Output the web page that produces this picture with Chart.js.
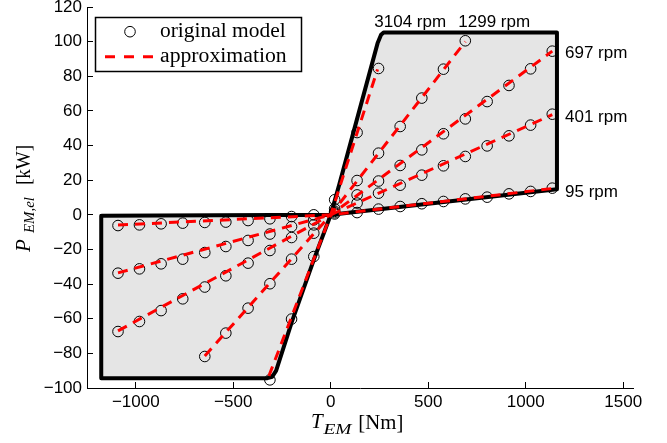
<!DOCTYPE html>
<html lang="en">
<head>
<meta charset="UTF-8">
<title>P_EM,el vs T_EM</title>
<script src="https://cdn.jsdelivr.net/npm/chart.js"></script>
<style>
    html, body { margin: 0; padding: 0; background: #fff; }
    .wrap { width: 667px; height: 443px; position: relative; }
</style>
</head>
<body>
<div class="wrap"><canvas id="grafico"></canvas></div>
<script>
// ticks
const xTicks = [-1000, -500, 0, 500, 1000, 1500];
const yTicks = [-100, -80, -60, -40, -20, 0, 20, 40, 60, 80, 100, 120];

// torque grid of the original model [Nm]
const torqueNeg = [-1091, -981, -870, -759, -646, -538, -424, -312, -201, -87];
const torquePos = [20, 135, 245, 356, 467, 578, 690, 802, 914, 1025, 1136];

// original model, electric power [kW] per speed
const p95Neg   = [-6.2, -5.8, -5.2, -4.8, -4.4, -4.2, -3.3, -2.3, -1.0, 0];
const p95Pos   = [0.5, 1.3, 3.3, 4.8, 6.4, 7.7, 9.2, 10.2, 12.1, 13.5, 15.4];
const p401Neg  = [-33.7, -31.2, -28.3, -25.6, -21.8, -18.3, -14.8, -11.1, -6.8, -2.9];
const p401Pos  = [1.2, 6.8, 12.5, 17.1, 22.9, 28.3, 33.7, 39.8, 45.6, 51.8, 58.1];
const p697Neg  = [-67.4, -61.6, -55.3, -48.5, -41.7, -35.2, -27.9, -20.6, -13.1, -5.8];
const p697Pos  = [2.0, 11.5, 19.5, 28.5, 37.5, 46.8, 55.4, 65.4, 74.7, 84.3, 94.5];
const t1299Neg = [-646, -538, -424, -312, -201, -87];
const p1299Neg = [-81.8, -68.3, -53.9, -39.8, -25.6, -10.6];
const t1299Pos = [20, 135, 245, 356, 467, 578, 690];
const p1299Pos = [3.5, 19.8, 35.6, 51.0, 67.4, 84.1, 100.5];
const t3104Neg = [-312, -201, -87];
const p3104Neg = [-95.3, -60.2, -24.1];
const t3104Pos = [20, 135, 245];
const p3104Pos = [8.7, 47.5, 84.5];

// approximation (piecewise linear)
const apxT95 = [-1091, 0, 1136],  apxP95 = [-5.9, 0, 15.2];
const apxT401 = [-1091, 0, 1136], apxP401 = [-33.5, 0, 57.8];
const apxT697 = [-1091, 0, 1136], apxP697 = [-67.0, 0, 94.5];
const apxT1299 = [-646, 0, 690],  apxP1299 = [-81.5, 0, 100.0];
const apxT3104 = [-317, 0, 240],  apxP3104 = [-93.0, 0, 84.0];

// operating envelope
const envT = [-1177, -1177, -325, -300, -280, -200, -87, 0, 45, 240, 258, 271, 1160, 1160, 0, -1177];
const envP = [-0.5, -94.3, -94.3, -93.5, -90.0, -62.0, -26.0, 0, 18.0, 99.0, 104.0, 105.3, 105.3, 14.8, 0, -0.5];

function pts(xs, ys) {
    return xs.map((x, i) => ({ x: x, y: ys[i] }));
}

function fitText(ctx, str, font, x, y, w) {
    ctx.font = font;
    const m = ctx.measureText(str).width;
    ctx.save();
    ctx.translate(x, y);
    ctx.scale(w / m, 1);
    ctx.fillText(str, 0, 0);
    ctx.restore();
}

const serif = '"Liberation Serif", "Times New Roman", serif';

const textos = {
    id: 'textos',
    afterDraw(chart) {
        const ctx = chart.ctx;
        ctx.save();
        ctx.textBaseline = 'alphabetic';
        ctx.textAlign = 'left';

        // legend box
        ctx.fillStyle = '#fff';
        ctx.fillRect(95.5, 17.5, 206, 54);
        ctx.strokeStyle = '#000';
        ctx.lineWidth = 1.5;
        ctx.strokeRect(95.5, 17.5, 206, 54);
        ctx.lineWidth = 1;
        ctx.beginPath();
        ctx.arc(130, 31.7, 5.3, 0, 2 * Math.PI);
        ctx.stroke();
        ctx.beginPath();
        ctx.strokeStyle = '#ff0000';
        ctx.lineWidth = 3;
        ctx.setLineDash([10, 9]);
        ctx.moveTo(105, 56.7);
        ctx.lineTo(155, 56.7);
        ctx.stroke();
        ctx.setLineDash([]);
        ctx.fillStyle = '#000';
        fitText(ctx, 'original model', '20px ' + serif, 160, 36.7, 125.7);
        fitText(ctx, 'approximation', '20px ' + serif, 160, 61.7, 126.7);

        // speed labels
        ctx.font = '17px "Liberation Sans", Arial, sans-serif';
        ctx.fillText('3104 rpm', 374.3, 27.3);
        ctx.fillText('1299 rpm', 458.3, 27.3);
        ctx.fillText('697 rpm', 565, 58);
        ctx.fillText('401 rpm', 565, 121.7);
        ctx.fillText('95 rpm', 565, 196.7);

        // x axis title: T_EM [Nm]
        ctx.font = 'italic 21px ' + serif;
        ctx.fillText('T', 311, 428);
        fitText(ctx, 'EM', 'italic 15px ' + serif, 323.5, 434, 28);
        fitText(ctx, '[Nm]', '21px ' + serif, 358.3, 429, 45);

        // y axis title: P_EM,el [kW]
        ctx.save();
        ctx.translate(30, 252);
        ctx.rotate(-Math.PI / 2);
        ctx.font = 'italic 21px ' + serif;
        ctx.fillText('P', 0, 0);
        fitText(ctx, 'EM,el', 'italic 15px ' + serif, 19, 4, 36);
        fitText(ctx, '[kW]', '21px ' + serif, 67, 0, 40);
        ctx.restore();

        ctx.restore();
    }
};

const circleStyle = {
    showLine: false,
    pointStyle: 'circle',
    pointRadius: 5.3,
    pointBorderWidth: 1,
    pointBorderColor: '#000',
    pointBackgroundColor: 'rgba(0,0,0,0)',
    order: 2
};

const apxStyle = {
    showLine: true,
    pointRadius: 0,
    borderColor: '#ff0000',
    borderWidth: 3,
    borderDash: [10, 7],
    fill: false,
    order: 1
};

const ctx = document.getElementById('grafico').getContext('2d');
new Chart(ctx, {
    type: 'scatter',
    data: {
        datasets: [
            {
                label: 'envelope',
                data: pts(envT, envP),
                showLine: true,
                pointRadius: 0,
                borderColor: '#000',
                borderWidth: 4,
                borderJoinStyle: 'round',
                backgroundColor: '#e5e5e5',
                fill: 'shape',
                order: 3
            },
            Object.assign({ label: 'original model 95 rpm', data: pts(torqueNeg, p95Neg).concat(pts(torquePos, p95Pos)) }, circleStyle),
            Object.assign({ label: 'original model 401 rpm', data: pts(torqueNeg, p401Neg).concat(pts(torquePos, p401Pos)) }, circleStyle),
            Object.assign({ label: 'original model 697 rpm', data: pts(torqueNeg, p697Neg).concat(pts(torquePos, p697Pos)) }, circleStyle),
            Object.assign({ label: 'original model 1299 rpm', data: pts(t1299Neg, p1299Neg).concat(pts(t1299Pos, p1299Pos)) }, circleStyle),
            Object.assign({ label: 'original model 3104 rpm', data: pts(t3104Neg, p3104Neg).concat(pts(t3104Pos, p3104Pos)) }, circleStyle),
            Object.assign({ label: 'approximation 95 rpm', data: pts(apxT95, apxP95) }, apxStyle),
            Object.assign({ label: 'approximation 401 rpm', data: pts(apxT401, apxP401) }, apxStyle),
            Object.assign({ label: 'approximation 697 rpm', data: pts(apxT697, apxP697) }, apxStyle),
            Object.assign({ label: 'approximation 1299 rpm', data: pts(apxT1299, apxP1299) }, apxStyle),
            Object.assign({ label: 'approximation 3104 rpm', data: pts(apxT3104, apxP3104) }, apxStyle)
        ]
    },
    options: {
        responsive: true,
        maintainAspectRatio: false,
        animation: false,
        layout: { padding: { left: 0, top: 7, right: 34, bottom: 0 } },
        plugins: {
            legend: { display: false },
            tooltip: { enabled: false }
        },
        scales: {
            x: {
                type: 'linear',
                min: -1250,
                max: 1550,
                afterBuildTicks: s => { s.ticks = xTicks.map(v => ({ value: v })); },
                afterFit: s => { s.height = 55; s.paddingLeft = 0; s.paddingRight = 0; },
                ticks: {
                    color: '#000',
                    padding: 10,
                    maxRotation: 0,
                    font: { family: '"Liberation Sans", Arial, sans-serif', size: 17 },
                    callback: v => String(v).replace('-', '\u2212')
                },
                grid: { drawOnChartArea: false, drawTicks: true, tickLength: -6, color: '#000' },
                border: { color: '#000', width: 1 }
            },
            y: {
                type: 'linear',
                min: -100,
                max: 120,
                afterBuildTicks: s => { s.ticks = yTicks.map(v => ({ value: v })); },
                afterFit: s => { s.width = 87; s.paddingTop = 0; s.paddingBottom = 0; },
                ticks: {
                    color: '#000',
                    padding: 11,
                    font: { family: '"Liberation Sans", Arial, sans-serif', size: 17 },
                    callback: v => String(v).replace('-', '\u2212')
                },
                grid: { drawOnChartArea: false, drawTicks: true, tickLength: -6, color: '#000' },
                border: { color: '#000', width: 1 }
            }
        }
    },
    plugins: [textos]
});
</script>
</body>
</html>
